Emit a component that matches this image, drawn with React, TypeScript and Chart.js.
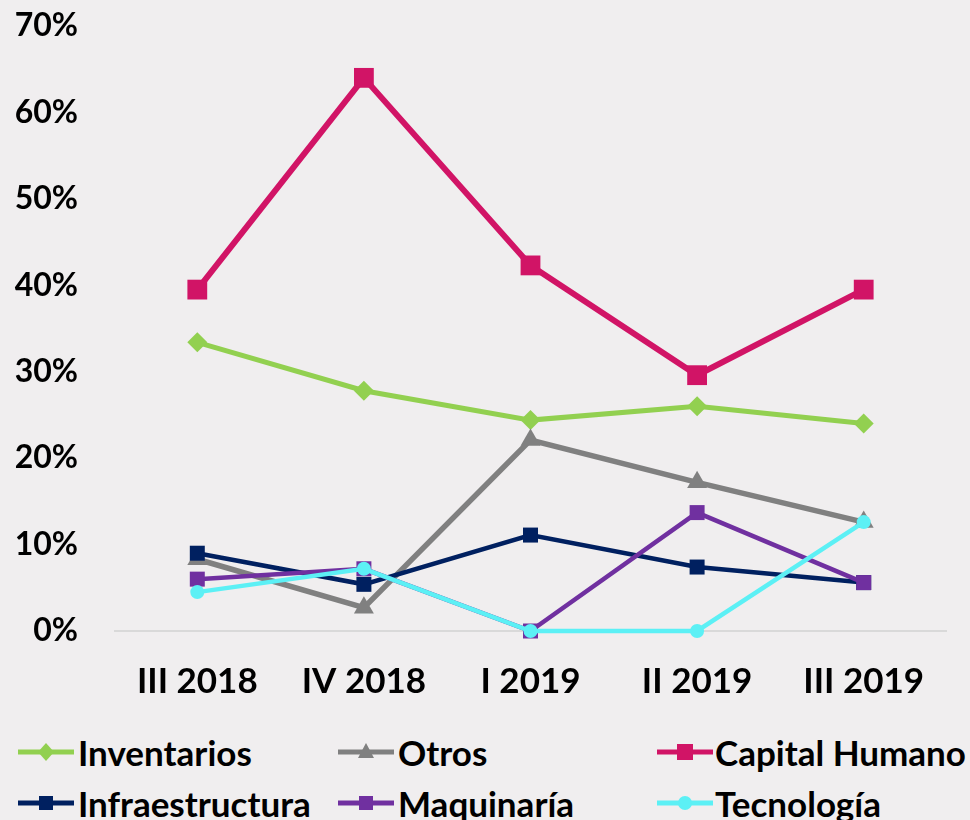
import React, { useEffect, useRef } from "react";
import { Chart, registerables } from "chart.js";

Chart.register(...registerables);

const categories = ["III 2018", "IV 2018", "I 2019", "II 2019", "III 2019"];
const inventarios = [33.4, 27.8, 24.4, 26.0, 24.0];
const otros = [8.3, 2.7, 22.1, 17.2, 12.6];
const capitalHumano = [39.5, 64.0, 42.3, 29.6, 39.5];
const infraestructura = [9.0, 5.4, 11.1, 7.4, 5.6];
const maquinaria = [6.0, 7.2, 0, 13.7, 5.6];
const tecnologia = [4.5, 7.2, 0, 0, 12.6];
const yTickValues = [0, 10, 20, 30, 40, 50, 60, 70];

const FONT = "Lato, 'Open Sans', sans-serif";
const BG = "#F0EEEF";

type S = { label: string; data: number[]; color: string; style: string; radius: number; width: number };

const series: S[] = [
  { label: "Inventarios", data: inventarios, color: "#92D050", style: "rectRot", radius: 10, width: 5 },
  { label: "Otros", data: otros, color: "#808080", style: "triangle", radius: 11.5, width: 5.5 },
  { label: "Capital Humano", data: capitalHumano, color: "#D11466", style: "rect", radius: 14, width: 6 },
  { label: "Infraestructura", data: infraestructura, color: "#002060", style: "rect", radius: 10.6, width: 4.5 },
  { label: "Maquinaría", data: maquinaria, color: "#7030A0", style: "rect", radius: 10.6, width: 4.5 },
  { label: "Tecnología", data: tecnologia, color: "#5CF0F5", style: "circle", radius: 7, width: 4.5 },
];

const legendPos = [
  { x: 18, t: 78, y: 752 },
  { x: 338, t: 398, y: 752 },
  { x: 657, t: 715, y: 752 },
  { x: 18, t: 78, y: 803 },
  { x: 338, t: 398, y: 803 },
  { x: 657, t: 715, y: 803 },
];

function Marker({ s }: { s: S }) {
  const cx = 28;
  const cy = 12;
  let shape: any = null;
  if (s.style === "rectRot") {
    shape = <polygon points={`${cx},${cy - 9} ${cx + 8},${cy} ${cx},${cy + 9} ${cx - 8},${cy}`} fill={s.color} />;
  } else if (s.style === "triangle") {
    shape = <polygon points={`${cx},${cy - 9} ${cx + 8},${cy + 6} ${cx - 8},${cy + 6}`} fill={s.color} />;
  } else if (s.style === "rect") {
    const h = s.radius > 12 ? 8 : 7;
    shape = <rect x={cx - h} y={cy - h} width={2 * h} height={2 * h} fill={s.color} />;
  } else {
    shape = <circle cx={cx} cy={cy} r={7} fill={s.color} />;
  }
  return (
    <svg width={58} height={24} style={{ position: "absolute", left: 0, top: -12 }}>
      <line x1={0} y1={cy} x2={56} y2={cy} stroke={s.color} strokeWidth={5} />
      {shape}
    </svg>
  );
}

export default function App() {
  const ref = useRef<HTMLCanvasElement | null>(null);

  useEffect(() => {
    if (!ref.current) return;
    const yFont = { family: FONT, size: 32, weight: "bold" as const };
    const xFont = { family: FONT, size: 35, weight: "bold" as const };
    const chart = new Chart(ref.current, {
      type: "line",
      data: {
        labels: categories,
        datasets: series.map((s, i) => ({
          label: s.label,
          data: s.data,
          borderColor: s.color,
          backgroundColor: s.color,
          borderWidth: s.width,
          pointStyle: s.style as any,
          pointRadius: s.radius,
          pointBorderWidth: 0,
          pointBackgroundColor: s.color,
          tension: 0,
          fill: false,
          clip: false as any,
          order: series.length - i,
        })),
      },
      options: {
        animation: false,
        responsive: false,
        layout: { padding: { top: 0, right: 23, left: 0, bottom: 0 } },
        plugins: { legend: { display: false }, tooltip: { enabled: false } },
        scales: {
          x: {
            offset: true,
            grid: { display: false, drawTicks: false, offset: true },
            border: { display: false },
            ticks: { color: "#000", font: xFont, padding: 30, maxRotation: 0, autoSkip: false },
            afterFit: (s: any) => {
              s.height = 89;
            },
          },
          y: {
            min: 0,
            max: 70,
            grid: {
              drawTicks: false,
              lineWidth: 2,
              color: (c: any) => (c.tick && c.tick.value === 0 ? "#D9D9D9" : "rgba(0,0,0,0)"),
            },
            border: { display: false },
            afterBuildTicks: (s: any) => {
              s.ticks = yTickValues.map((v) => ({ value: v }));
            },
            ticks: {
              color: "#000",
              font: yFont,
              padding: 36,
              callback: (v: any) => `${v}%`,
            },
            afterFit: (s: any) => {
              s.width = 114;
              s.paddingTop = 26;
              s.paddingBottom = 20;
            },
          },
        },
      },
    });
    return () => chart.destroy();
  }, []);

  return (
    <div
      style={{
        position: "absolute",
        left: 0,
        top: 0,
        width: 970,
        height: 820,
        background: BG,
        fontFamily: FONT,
        overflow: "hidden",
      }}
    >
      <canvas ref={ref} width={970} height={720} style={{ position: "absolute", left: 0, top: 0 }} />
      {series.map((s, i) => {
        const p = legendPos[i];
        return (
          <div key={s.label} style={{ position: "absolute", left: p.x, top: p.y, height: 0 }}>
            <Marker s={s} />
            <span
              style={{
                position: "absolute",
                left: p.t - p.x,
                top: -21,
                fontSize: 35,
                fontWeight: 700,
                lineHeight: "42px",
                whiteSpace: "nowrap",
                color: "#000",
              }}
            >
              {s.label}
            </span>
          </div>
        );
      })}
    </div>
  );
}
